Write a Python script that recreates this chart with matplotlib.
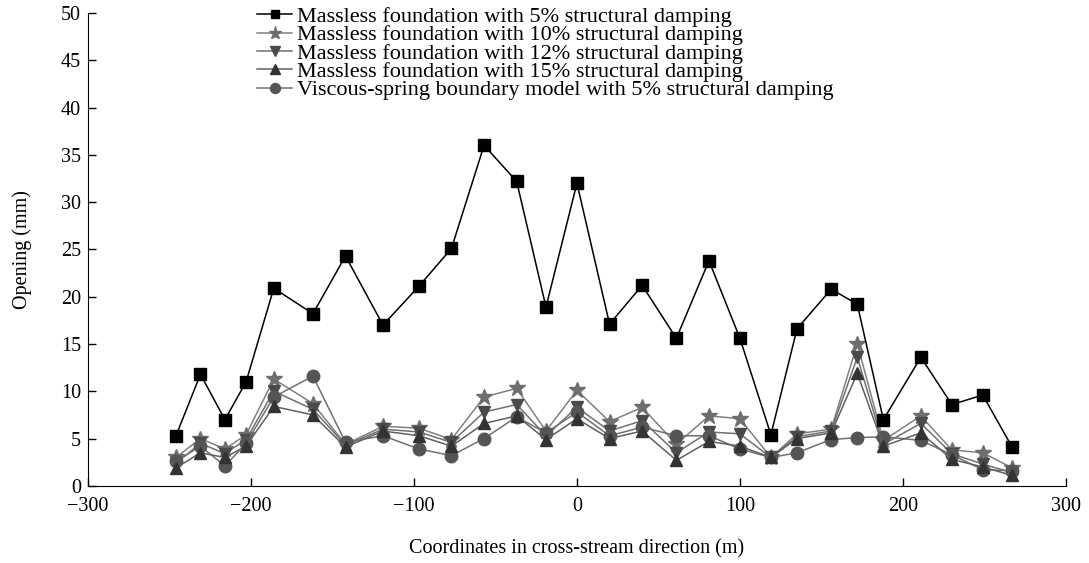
import matplotlib
matplotlib.use("Agg")
import matplotlib.pyplot as plt

plt.rcParams['font.family'] = ['Liberation Serif', 'DejaVu Serif']

# Cross-stream coordinates of the joints (m)
coords = [-246, -231, -216, -203, -186, -162, -142, -119, -97, -77, -57, -37, -19, 0,
          20, 40, 61, 81, 100, 119, 135, 156, 172, 188, 211, 230, 249, 267]

# Joint opening (mm) for each model
massless_5 = [5.3, 11.8, 7.0, 11.0, 20.9, 18.2, 24.3, 17.0, 21.1, 25.1, 36.0, 32.2, 18.9, 32.0,
              17.1, 21.2, 15.6, 23.8, 15.6, 5.4, 16.6, 20.8, 19.2, 7.0, 13.6, 8.6, 9.6, 4.1]
massless_10 = [3.0, 5.0, 3.9, 5.4, 11.3, 8.7, 4.4, 6.3, 6.1, 4.9, 9.4, 10.3, 5.8, 10.1,
               6.8, 8.3, 4.4, 7.4, 7.1, 3.0, 5.5, 6.0, 15.0, 4.8, 7.4, 3.8, 3.5, 1.9]
massless_12 = [2.4, 4.5, 3.4, 4.9, 10.0, 8.1, 4.3, 6.0, 5.7, 4.6, 7.8, 8.6, 5.3, 8.3,
               5.8, 6.9, 3.5, 5.7, 5.5, 3.0, 5.2, 5.8, 13.6, 4.4, 6.6, 3.4, 2.3, 1.4]
massless_15 = [1.9, 3.5, 3.0, 4.2, 8.4, 7.5, 4.1, 5.8, 5.3, 4.2, 6.6, 7.4, 4.9, 7.1,
               5.0, 5.8, 2.7, 4.7, 4.2, 3.0, 5.0, 5.6, 11.9, 4.2, 5.6, 2.8, 2.0, 1.1]
viscous_5 = [2.6, 4.2, 2.1, 4.5, 9.4, 11.6, 4.6, 5.3, 3.9, 3.2, 5.0, 7.3, 5.6, 7.8,
             5.3, 6.2, 5.3, 5.3, 3.9, 3.0, 3.5, 4.9, 5.1, 5.2, 4.8, 3.3, 1.7, 1.6]

labels = [
    "Massless foundation with 5% structural damping",
    "Massless foundation with 10% structural damping",
    "Massless foundation with 12% structural damping",
    "Massless foundation with 15% structural damping",
    "Viscous-spring boundary model with 5% structural damping",
]

fig = plt.figure(figsize=(10.89, 5.63), dpi=100)
ax = fig.add_axes([0.0808, 0.137, 0.898, 0.840])

ax.plot(coords, massless_5, color='black', lw=1.1, marker='s', ms=8,
        mfc='black', mec='black', label=labels[0], zorder=6)
ax.plot(coords, massless_10, color='#808080', lw=1.1, marker='*', ms=12,
        mfc='#6e6e6e', mec='#6e6e6e', label=labels[1], zorder=3)
ax.plot(coords, massless_12, color='#707070', lw=1.1, marker='v', ms=9,
        mfc='#4a4a4a', mec='#4a4a4a', label=labels[2], zorder=4)
ax.plot(coords, massless_15, color='#606060', lw=1.1, marker='^', ms=9,
        mfc='#333333', mec='#333333', label=labels[3], zorder=5)
ax.plot(coords, viscous_5, color='#707070', lw=1.1, marker='o', ms=9,
        mfc='#555555', mec='#555555', label=labels[4], zorder=4)

ax.set_xlim(-300, 300)
ax.set_ylim(0, 50)
ax.set_xticks([-300, -200, -100, 0, 100, 200, 300])
ax.set_yticks(range(0, 51, 5))
ax.spines['top'].set_visible(False)
ax.spines['right'].set_visible(False)
ax.tick_params(direction='in', length=6, width=1, labelsize=14.5)
ax.tick_params(axis='x', pad=8)
ax.tick_params(axis='y', pad=5)

ax.set_xlabel("Coordinates in cross-stream direction (m)", fontsize=14.5, labelpad=17)
ax.set_ylabel("Opening (mm)", fontsize=14.5, labelpad=21)

ax.legend(loc='upper left', bbox_to_anchor=(0.2235, 1.012), bbox_transform=fig.transFigure,
          frameon=False, fontsize=16, handlelength=1.6, handletextpad=0.2,
          labelspacing=-0.1, borderaxespad=0.2, markerscale=0.8)

fig.savefig("out.png", dpi=100)
